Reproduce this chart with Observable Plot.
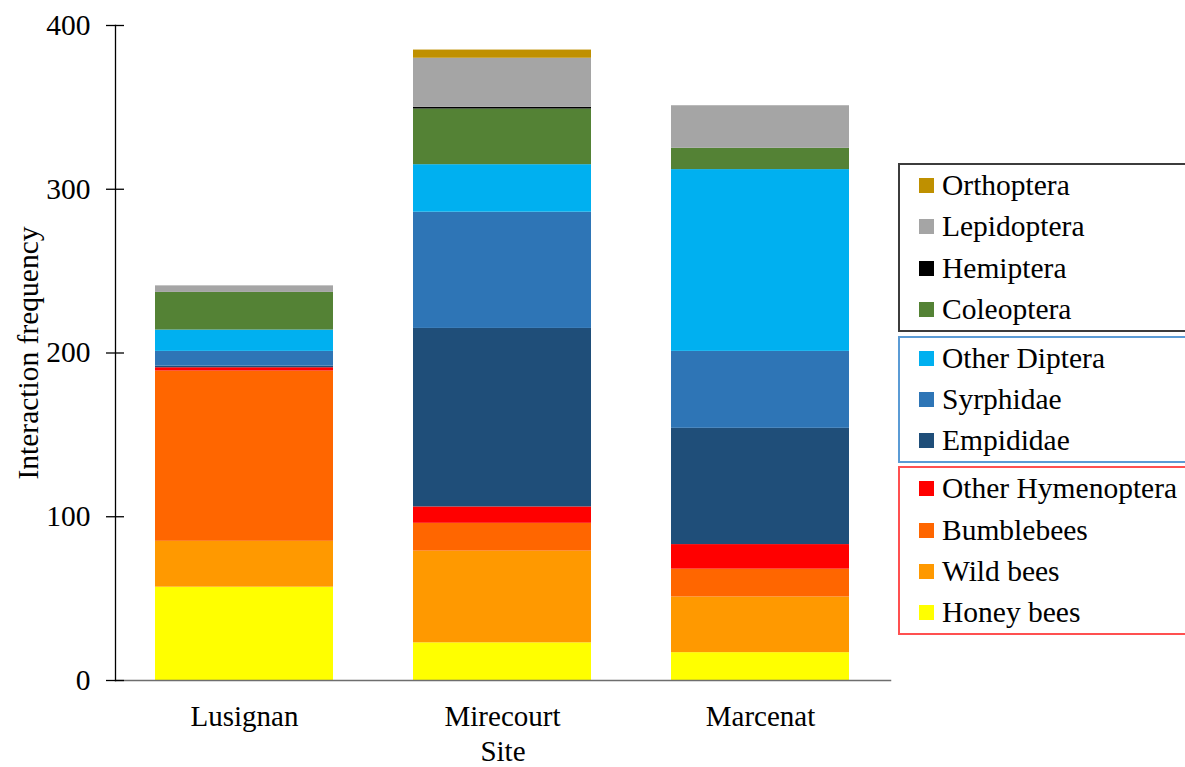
<!DOCTYPE html>
<html>
<head>
<meta charset="utf-8">
<script src="https://cdn.jsdelivr.net/npm/d3@7"></script>
<script src="https://cdn.jsdelivr.net/npm/@observablehq/plot@0.6"></script>
<style>
  html, body { margin: 0; padding: 0; background: #fff; }
  #wrap { position: relative; width: 1185px; height: 767px; overflow: hidden; font-family: "Liberation Serif", "Times New Roman", serif; }
  .box { position: absolute; box-sizing: border-box; }
  .row { display: flex; align-items: center; font-family: "Liberation Serif", "Times New Roman", serif; font-size: 29.5px; color: #000; white-space: nowrap; }
  .sw { width: 15px; height: 15px; margin-left: 19px; margin-right: 8px; flex: none; }
</style>
</head>
<body>
<div id="wrap"></div>
<script>
// ---- data ----
const sites = ["Lusignan", "Mirecourt", "Marcenat"];
const honeyBees        = [57, 23, 17];
const wildBees         = [28, 56, 34];
const bumblebees       = [104, 17, 17];
const otherHymenoptera = [2, 10, 15];
const empididae        = [1, 109, 71];
const syrphidae        = [9, 71, 47];
const otherDiptera     = [13, 29, 111];
const coleoptera       = [23, 34, 13];
const hemiptera        = [0, 1, 0];
const lepidoptera      = [4, 30, 26];
const orthoptera       = [0, 5, 0];
const yTicks = [0, 100, 200, 300, 400];

// series, bottom to top
const seriesNames = ["Honey bees", "Wild bees", "Bumblebees", "Other Hymenoptera", "Empididae", "Syrphidae", "Other Diptera", "Coleoptera", "Hemiptera", "Lepidoptera", "Orthoptera"];
const seriesValues = [honeyBees, wildBees, bumblebees, otherHymenoptera, empididae, syrphidae, otherDiptera, coleoptera, hemiptera, lepidoptera, orthoptera];
const seriesColors = ["#FFFF00", "#FF9900", "#FF6600", "#FF0000", "#1F4E79", "#2E75B6", "#00B0F0", "#548235", "#000000", "#A5A5A5", "#BF9000"];

// legend groups (top to bottom)
const legendGroups = [
  {items: ["Orthoptera", "Lepidoptera", "Hemiptera", "Coleoptera"], border: "#3c3c3c"},
  {items: ["Other Diptera", "Syrphidae", "Empididae"], border: "#5B9BD5"},
  {items: ["Other Hymenoptera", "Bumblebees", "Wild bees", "Honey bees"], border: "#FF5050"}
];

const rows = [];
seriesNames.forEach((s, i) => sites.forEach((site, j) => rows.push({site, series: s, value: seriesValues[i][j]})));

const font = "Liberation Serif";
const chart = Plot.plot({
  width: 1185,
  height: 767,
  marginLeft: 115,
  marginRight: 295,
  marginTop: 25,
  marginBottom: 87,
  style: {fontFamily: font, background: "transparent", overflow: "visible"},
  x: {domain: sites, paddingInner: 0.31, paddingOuter: 0.155, axis: null},
  y: {domain: [0, 400], axis: null},
  color: {domain: seriesNames, range: seriesColors},
  marks: [
    Plot.barY(rows, {x: "site", y: "value", fill: "series", order: seriesNames}),
    Plot.frame({anchor: "bottom", stroke: "#6e6e6e", strokeWidth: 1.5}),
    Plot.frame({anchor: "left", stroke: "#000", strokeWidth: 1.3}),
    Plot.axisY({ticks: yTicks, tickSize: 18, dx: 9, text: null, stroke: "#000", strokeWidth: 1.3, label: null}),
    Plot.axisY({ticks: yTicks, tickSize: 0, tickPadding: 25, fontSize: 29.5, fill: "#000", label: null, tickFormat: d => String(d)}),
    Plot.axisX({tickSize: 0, tickPadding: 25, fontSize: 29, fill: "#000", label: null}),
    Plot.text(["Interaction frequency"], {frameAnchor: "left", textAnchor: "middle", rotate: -90, dx: -87, fontSize: 29.5, fill: "#000"}),
    Plot.text(["Site"], {frameAnchor: "bottom", dy: 80, fontSize: 29, fill: "#000"})
  ]
});
const wrap = document.getElementById("wrap");
wrap.appendChild(chart);

// legend
const rowH = 42.3, gap = 3.5;
let boxTop = 163;
legendGroups.forEach(g => {
  const box = document.createElement("div");
  box.className = "box";
  box.style.left = "898px";
  box.style.top = boxTop + "px";
  box.style.width = "310px";
  box.style.height = (g.items.length * rowH) + "px";
  box.style.border = "2px solid " + g.border;
  g.items.forEach(name => {
    const r = document.createElement("div");
    r.className = "row";
    r.style.height = (rowH - 1) + "px";
    const sw = document.createElement("span");
    sw.className = "sw";
    sw.style.background = seriesColors[seriesNames.indexOf(name)];
    const t = document.createElement("span");
    t.textContent = name;
    r.appendChild(sw); r.appendChild(t);
    box.appendChild(r);
  });
  wrap.appendChild(box);
  boxTop += g.items.length * rowH + gap;
});
</script>
</body>
</html>
